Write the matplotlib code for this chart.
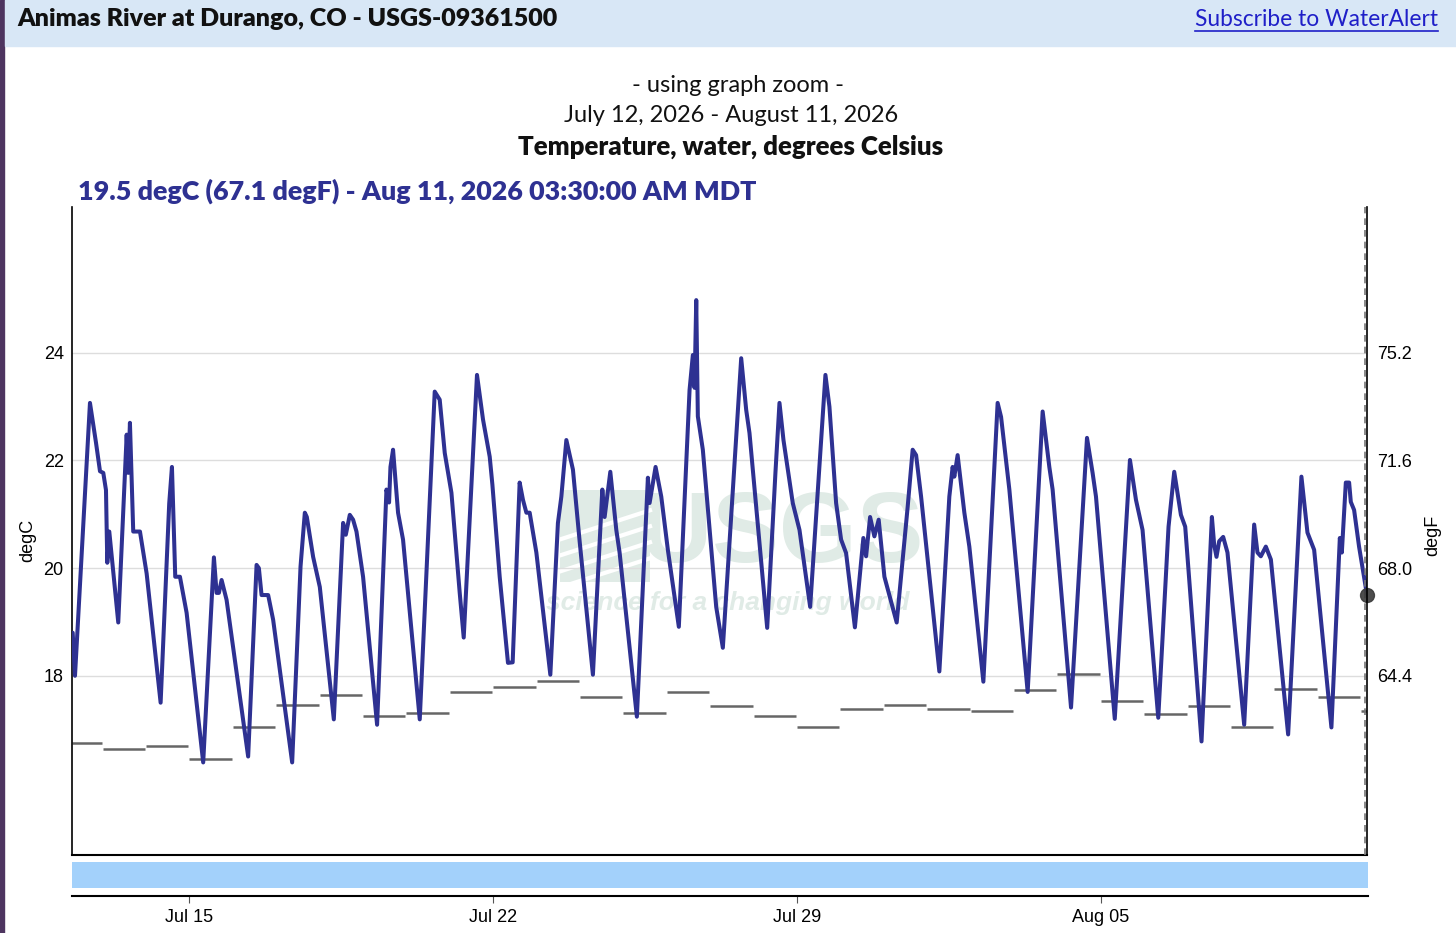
import numpy as np
import matplotlib.pyplot as plt
import matplotlib.dates as mdates
from matplotlib.patches import Rectangle
from matplotlib.lines import Line2D
from datetime import datetime

W, H = 1456, 933

# water temperature, degC; times are days after 2026-07-12 00:00 MDT
t_days = [0.322, 0.375, 0.720, 0.859, 0.951, 1.027, 1.089, 1.105, 1.119, 1.165,
          1.372, 1.566, 1.602, 1.641, 1.717, 1.872, 2.026, 2.348, 2.546, 2.609,
          2.685, 2.793, 2.947, 3.329, 3.576, 3.638, 3.691, 3.753, 3.868, 4.365,
          4.559, 4.612, 4.674, 4.826, 4.941, 5.379, 5.572, 5.671, 5.717, 5.862,
          6.016, 6.339, 6.553, 6.615, 6.707, 6.783, 6.861, 7.013, 7.336, 7.552,
          7.612, 7.644, 7.704, 7.819, 7.934, 8.319, 8.664, 8.779, 8.895, 9.049,
          9.240, 9.332, 9.638, 9.777, 9.931, 9.993, 10.161, 10.352, 10.460, 10.621,
          10.697, 10.776, 10.852, 11.006, 11.328, 11.503, 11.582, 11.697, 11.849, 12.003,
          12.309, 12.526, 12.579, 12.710, 12.848, 12.924, 13.322, 13.576, 13.615, 13.753,
          13.884, 14.036, 14.289, 14.536, 14.612, 14.651, 14.690, 14.727, 14.842, 15.150,
          15.303, 15.726, 15.841, 15.917, 16.325, 16.516, 16.608, 16.700, 16.914, 17.069,
          17.315, 17.667, 17.759, 17.913, 18.028, 18.143, 18.346, 18.541, 18.604, 18.696,
          18.795, 18.894, 19.026, 19.309, 19.562, 19.677, 19.756, 19.871, 20.292, 20.522,
          20.598, 20.637, 20.713, 20.868, 20.983, 21.306, 21.635, 21.714, 21.905, 22.327,
          22.672, 22.826, 22.902, 23.326, 23.694, 23.823, 23.901, 24.334, 24.684, 24.822,
          24.974, 25.336, 25.573, 25.704, 25.858, 25.957, 26.333, 26.572, 26.625, 26.678,
          26.740, 26.832, 26.931, 27.316, 27.546, 27.622, 27.700, 27.815, 27.931, 28.329,
          28.635, 28.774, 28.928, 29.326, 29.520, 29.566, 29.658, 29.734, 29.773, 29.849,
          29.963, 30.146]
temp_c = [18.80, 18.00, 23.07, 22.33, 21.80, 21.77, 21.45, 20.70, 20.10, 20.68,
          18.99, 22.48, 21.77, 22.70, 20.68, 20.68, 19.90, 17.50, 21.20, 21.88,
          19.84, 19.84, 19.17, 16.39, 20.20, 19.54, 19.54, 19.78, 19.41, 16.50,
          20.06, 20.00, 19.50, 19.50, 19.04, 16.39, 20.03, 21.03, 20.95, 20.21,
          19.65, 17.19, 20.84, 20.62, 20.99, 20.90, 20.68, 19.84, 17.09, 21.46,
          21.22, 21.88, 22.20, 21.03, 20.53, 17.19, 23.28, 23.13, 22.14, 21.40,
          19.54, 18.71, 23.59, 22.76, 22.07, 21.55, 19.84, 18.24, 18.25, 21.59,
          21.27, 21.03, 21.03, 20.29, 18.02, 20.84, 21.33, 22.38, 21.83, 20.50,
          18.02, 21.46, 20.95, 21.79, 20.71, 20.29, 17.24, 21.68, 21.21, 21.88,
          21.33, 20.34, 18.91, 23.31, 23.96, 23.35, 24.98, 22.82, 22.20, 19.28,
          18.52, 23.90, 22.94, 22.51, 18.89, 21.79, 23.07, 22.38, 21.21, 20.71,
          19.28, 23.59, 23.00, 21.21, 20.53, 20.28, 18.90, 20.56, 20.22, 20.95,
          20.59, 20.90, 19.84, 18.99, 21.14, 22.20, 22.10, 21.33, 18.08, 21.33,
          21.88, 21.70, 22.10, 21.03, 20.40, 17.89, 23.07, 22.81, 21.46, 17.70,
          22.91, 21.88, 21.46, 17.41, 22.42, 21.77, 21.33, 17.20, 22.01, 21.27,
          20.71, 17.22, 20.77, 21.79, 20.99, 20.77, 16.78, 20.95, 20.43, 20.21,
          20.50, 20.58, 20.29, 17.09, 20.81, 20.29, 20.22, 20.40, 20.16, 16.91,
          21.70, 20.66, 20.34, 17.04, 20.56, 20.29, 21.59, 21.59, 21.23, 21.08,
          20.40, 19.50]

# gray daily steps, one value per calendar day Jul 12 .. Aug 11
daily_ref = [16.76, 16.64, 16.69, 16.46, 17.04, 17.45, 17.65, 17.25, 17.30, 17.70,
             17.79, 17.90, 17.60, 17.30, 17.69, 17.44, 17.25, 17.05, 17.39, 17.45,
             17.39, 17.34, 17.74, 18.04, 17.54, 17.29, 17.44, 17.05, 17.75, 17.60,
             17.34]

day0 = mdates.date2num(datetime(2026, 7, 12))
x_start = day0 + 0.306
x_end = day0 + 30.146
last_c = 19.5
c_ticks = [18, 20, 22, 24]
ylim_c = (14.67, 26.71)

line_blue = '#2e3192'
mark_col = '#e0ebe6'
page_font = ['Lato', 'DejaVu Sans']
axis_font = ['Liberation Sans', 'DejaVu Sans']

fig = plt.figure(figsize=(W / 100, H / 100), dpi=100)

# page frame: header strip and left border
fig.add_artist(Rectangle((0, 0), 4 / W, 1, transform=fig.transFigure, color='#4e3560'))
fig.add_artist(Rectangle((5 / W, 1 - 46 / H), 1, 46 / H, transform=fig.transFigure, color='#d8e7f6'))
fig.text(17 / W, 1 - 19 / H, 'Animas River at Durango, CO - USGS-09361500', family=page_font,
         fontweight='heavy', fontsize=18, color='#111111', ha='left', va='center')
link = fig.text(1438 / W, 1 - 19 / H, 'Subscribe to WaterAlert', family=page_font,
                fontsize=16.4, color='#1f1fc8', ha='right', va='center')

fig.text(738 / W, 1 - 86 / H, '- using graph zoom -', family=page_font, fontsize=17,
         color='#111111', ha='center', va='center')
fig.text(731 / W, 1 - 116 / H, 'July 12, 2026 - August 11, 2026', family=page_font, fontsize=17,
         color='#111111', ha='center', va='center')
fig.text(731 / W, 1 - 147 / H, 'Temperature, water, degrees Celsius', family=page_font,
         fontweight='heavy', fontsize=18.6, color='#111111', ha='center', va='center')
fig.text(78 / W, 1 - 191 / H, '19.5 degC (67.1 degF) - Aug 11, 2026 03:30:00 AM MDT',
         family=page_font, fontweight='heavy', fontsize=19.4, color=line_blue, ha='left', va='center')

# main plot
ax = fig.add_axes([72 / W, 1 - 855 / H, 1295 / W, 648 / H])
ax.set_xlim(x_start, x_end)
ax.set_ylim(*ylim_c)
ax.set_yticks(c_ticks)
ax.set_yticklabels([str(v) for v in c_ticks], family=axis_font)
ax.set_xticks([])
ax.tick_params(axis='y', length=0, labelsize=13, pad=6)
ax.grid(axis='y', color='#dddddd', lw=1, zorder=1)
ax.set_axisbelow(True)
for s in ['top', 'right']:
    ax.spines[s].set_visible(False)
ax.spines['left'].set_linewidth(1.2)
ax.spines['bottom'].set_linewidth(1.5)

# faint USGS watermark (logo block, letters, motto)
ax.add_patch(Rectangle(((560 - 72) / 1295, (855 - 582) / 648), 90 / 1295, 92 / 648,
                       transform=ax.transAxes, color=mark_col, lw=0, zorder=0))
for k in range(4):
    yk = (855 - 520 - k * 16) / 648
    ax.plot([(560 - 72) / 1295, (650 - 72) / 1295], [yk - 0.03, yk + 0.015],
            transform=ax.transAxes, color='white', lw=3, zorder=0.5)
ax.text((782 - 72) / 1295, (855 - 536) / 648, 'USGS', transform=ax.transAxes, fontsize=72,
        fontweight='bold', family=axis_font, color=mark_col, ha='center', va='center', zorder=0)
ax.text((728 - 72) / 1295, (855 - 603) / 648, 'science for a changing world', transform=ax.transAxes,
        fontsize=19, fontweight='bold', style='italic', family=axis_font,
        color=mark_col, ha='center', va='center', zorder=0)

for i, v in enumerate(daily_ref):
    a = max(day0 + i + 0.01, x_start)
    b = min(day0 + i + 0.99, x_end - 0.01)
    ax.hlines(v, a, b, color='#666666', lw=1.8, zorder=2)

x_vals = day0 + np.array(t_days)
ax.plot(x_vals, temp_c, color=line_blue, lw=2.9, zorder=3,
        solid_joinstyle='round', solid_capstyle='round')
ax.axvline(x_end - 0.045, color='#777777', lw=1.2, ls=(0, (4, 3)), zorder=4)
ax.plot([x_end], [last_c], 'o', ms=10, color='#3a3a3a', alpha=0.9, zorder=5, clip_on=False)

ax2 = ax.twinx()
ax2.set_ylim(ylim_c[0] * 1.8 + 32, ylim_c[1] * 1.8 + 32)
f_ticks = [c * 1.8 + 32 for c in c_ticks]
ax2.set_yticks(f_ticks)
ax2.set_yticklabels([f'{v:.1f}' for v in f_ticks], family=axis_font)
ax2.tick_params(axis='y', length=0, labelsize=13, pad=7)
for s in ['top', 'left', 'bottom']:
    ax2.spines[s].set_visible(False)
ax2.spines['right'].set_linewidth(1.2)

fig.text(28 / W, 1 - 540 / H, 'degC', family=axis_font, fontsize=13, rotation=90,
         ha='center', va='center')
fig.text(1433 / W, 1 - 535 / H, 'degF', family=axis_font, fontsize=13, rotation=90,
         ha='center', va='center')

# navigator strip with date axis
nav = fig.add_axes([72 / W, 1 - 896 / H, 1296 / W, 34 / H])
nav.set_xlim(x_start, x_end)
nav.set_ylim(0, 1)
nav.axhspan(0.235, 1.0, color='#a3d1fb', lw=0)
for s in ['top', 'left', 'right']:
    nav.spines[s].set_visible(False)
nav.spines['bottom'].set_linewidth(1.5)
nav.set_yticks([])
nav.xaxis.set_major_locator(mdates.WeekdayLocator(byweekday=mdates.WE))
nav.xaxis.set_major_formatter(mdates.DateFormatter('%b %d'))
nav.tick_params(axis='x', length=5, width=0.8, color='#555555', labelsize=13, pad=4)
for lab in nav.get_xticklabels():
    lab.set_family(axis_font)

# underline the link
fig.canvas.draw()
bb = link.get_window_extent()
fig.add_artist(Line2D([bb.x0 / W, bb.x1 / W], [(bb.y0 - 1) / H, (bb.y0 - 1) / H],
                      transform=fig.transFigure, color='#1f1fc8', lw=1.2))

fig.savefig('out.png', dpi=100)
